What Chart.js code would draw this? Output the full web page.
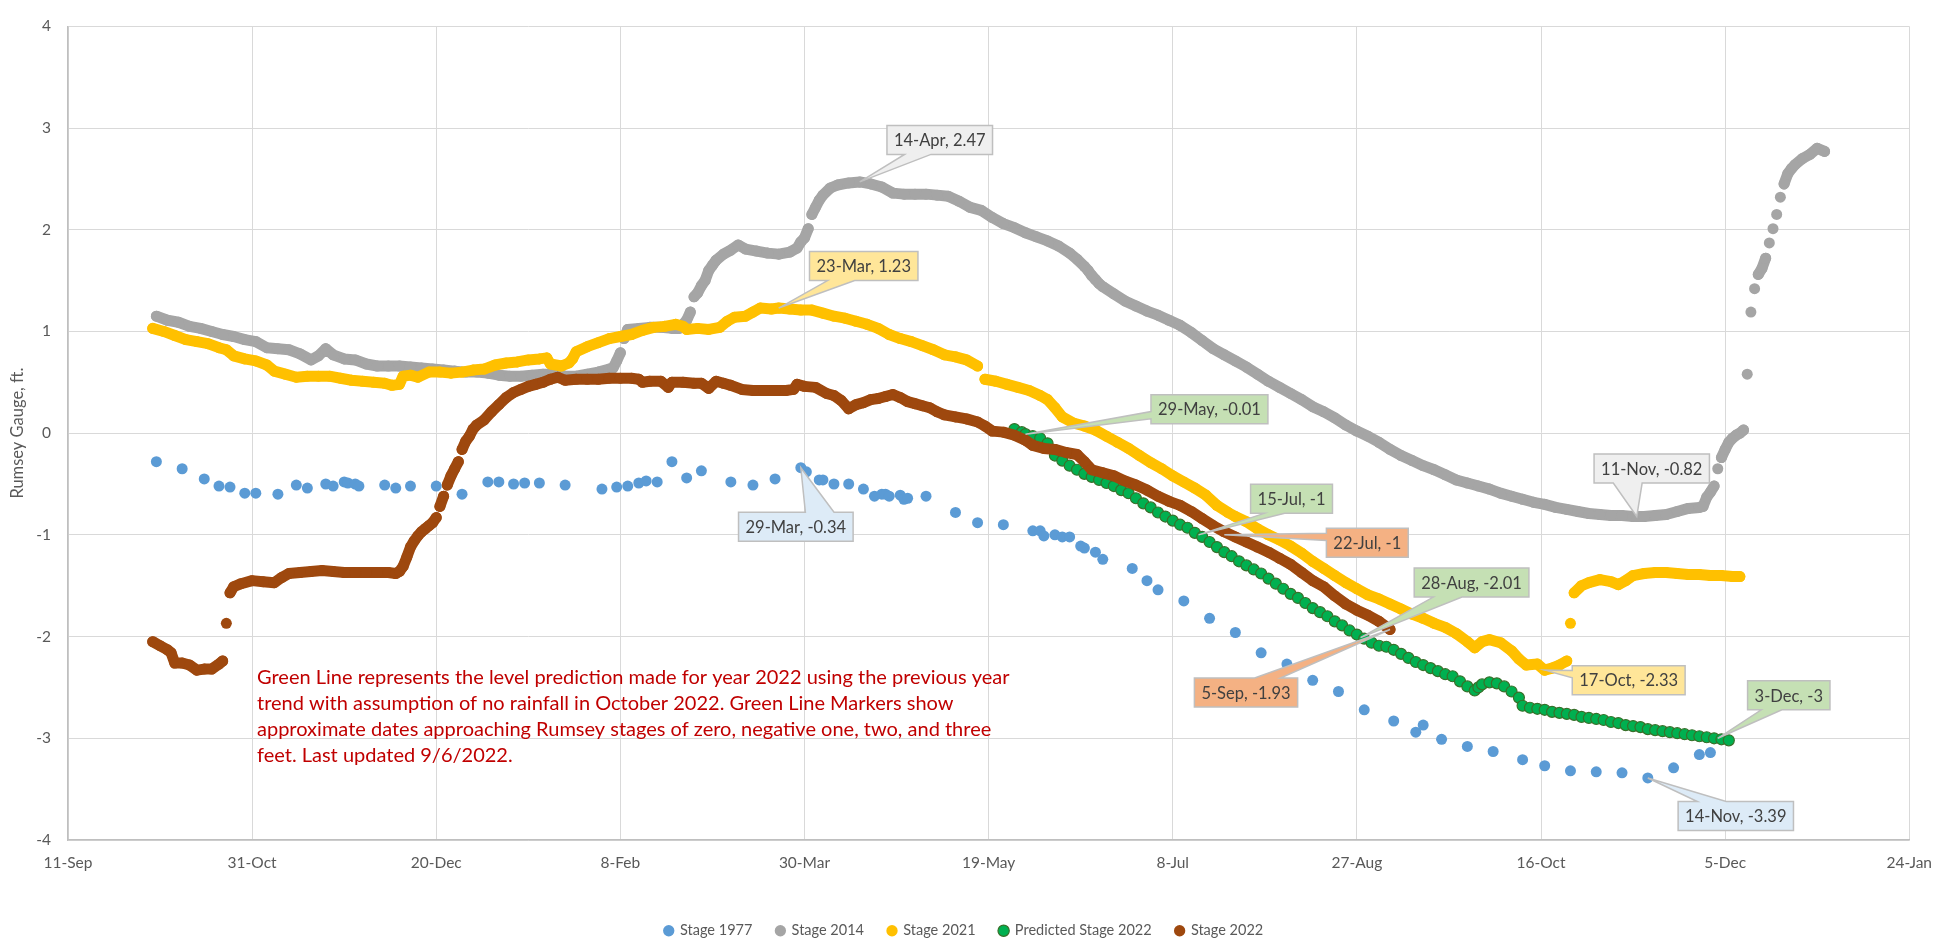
<!DOCTYPE html>
<html>
<head>
<meta charset="utf-8">
<title>Rumsey Gauge stages</title>
<script src="https://cdn.jsdelivr.net/npm/chart.js@4.4.1/dist/chart.umd.min.js"></script>
<style>
  html, body { margin: 0; padding: 0; background: #fff; }
  canvas { display: block; }
</style>
</head>
<body>
<canvas id="stageChart" width="1946" height="948"></canvas>
<script>
var blue  = '#5B9BD5',
    gray  = '#A5A5A5',
    gold  = '#FFC000',
    green = '#00B050',
    brown = '#9E480E';

// x values are days counted from 11-Sep (axis start)
var axisStart = Date.UTC(2021, 8, 11);
var months = ['Jan','Feb','Mar','Apr','May','Jun','Jul','Aug','Sep','Oct','Nov','Dec'];
function dayLabel(d) {
    var t = new Date(axisStart + d * 86400000);
    return t.getUTCDate() + '-' + months[t.getUTCMonth()];
}

// [day, stage ft]
var stage1977 = [[24,-0.28],[31,-0.35],[37,-0.45],[41,-0.52],[44,-0.53],[48,-0.59],[51,-0.59],[57,-0.60],[62,-0.51],[65,-0.54],[70,-0.50],[72,-0.52],[75,-0.48],[76,-0.49],[78,-0.50],[79,-0.52],[86,-0.51],[89,-0.54],
    [93,-0.52],[100,-0.52],[107,-0.60],[114,-0.48],[117,-0.48],[121,-0.50],[124,-0.49],[128,-0.49],[135,-0.51],[145,-0.55],[149,-0.53],[152,-0.52],[155,-0.49],[157,-0.47],[160,-0.48],[164,-0.28],[168,-0.44],[172,-0.37],[180,-0.48],[186,-0.51],[192,-0.45],
    [199,-0.34],[200.5,-0.38],[204,-0.46],[205,-0.46],[208,-0.50],[212,-0.50],[216,-0.55],[219,-0.62],[221,-0.60],[222,-0.60],[223,-0.62],[226,-0.61],[227,-0.65],[228,-0.64],[233,-0.62],[241,-0.78],[247,-0.88],[254,-0.90],
    [262,-0.96],[264,-0.96],[265,-1.01],[268,-1.00],[270,-1.02],[272,-1.02],[275,-1.11],[276,-1.13],[279,-1.17],[281,-1.24],[289,-1.33],[293,-1.45],[296,-1.54],[303,-1.65],[310,-1.82],[317,-1.96],[324,-2.16],[331,-2.27],[338,-2.43],[345,-2.54],
    [352,-2.72],[360,-2.83],[366,-2.94],[368,-2.87],[373,-3.01],[380,-3.08],[387,-3.13],[395,-3.21],[401,-3.27],[408,-3.32],[415,-3.33],[422,-3.34],[429,-3.39],[436,-3.29],[443,-3.16],[446,-3.14]];

var stage2014 = [[24,1.15],[27,1.11],[30,1.09],[33,1.05],[36,1.03],[39,1.00],[42,0.97],[45,0.95],[48,0.92],[51,0.90],[54,0.84],[57,0.83],[60,0.82],[63,0.78],[66,0.72],[68,0.76],[70,0.83],[72,0.77],[75,0.73],[78,0.72],[81,0.68],[84,0.66],[87,0.66],[90,0.66],
    [93,0.65],[96,0.64],[99,0.63],[102,0.62],[105,0.61],[108,0.60],[111,0.60],[114,0.59],[117,0.57],[120,0.56],[123,0.56],[126,0.57],[129,0.58],[132,0.58],[135,0.56],[138,0.56],[141,0.58],[144,0.60],[147,0.63],[148,0.64],[149,0.71],[150,0.79],[151,0.93],[152,1.02],
    [155,1.03],[158,1.04],[161,1.04],[164,1.03],[166,1.03],[167,1.07],[168,1.11],[169,1.19],[170,1.34],[171,1.38],[172,1.45],[173,1.50],[174,1.60],[175,1.65],[176,1.70],[178,1.76],[180,1.80],[182,1.85],[184,1.81],[187,1.79],[190,1.77],[193,1.76],[196,1.78],[198,1.82],
    [199,1.88],[200,1.92],[201,2.01],[202,2.15],[203,2.22],[204,2.29],[205,2.34],[207,2.41],[209,2.44],[212,2.46],[215,2.47],[218,2.45],[221,2.42],[224,2.36],[227,2.35],[230,2.35],[233,2.35],[236,2.34],[239,2.33],[242,2.28],[245,2.22],[248,2.19],[251,2.12],[254,2.06],
    [257,2.02],[260,1.97],[263,1.93],[266,1.89],[269,1.84],[272,1.77],[274,1.71],[276,1.64],[277,1.60],[278,1.55],[279,1.51],[280,1.47],[281,1.44],[284,1.37],[287,1.30],[290,1.25],[293,1.20],[296,1.16],[299,1.11],[302,1.06],[305,0.99],[308,0.91],[311,0.83],[314,0.77],[317,0.71],[320,0.65],[323,0.58],[326,0.51],
    [329,0.45],[332,0.39],[335,0.33],[338,0.26],[341,0.21],[344,0.15],[347,0.08],[350,0.02],[353,-0.03],[356,-0.09],[359,-0.16],[362,-0.22],[365,-0.27],[368,-0.32],[371,-0.36],[374,-0.41],[377,-0.46],[380,-0.49],[383,-0.52],[386,-0.55],[389,-0.59],[392,-0.62],
    [395,-0.65],[398,-0.68],[401,-0.70],[404,-0.73],[407,-0.75],[410,-0.77],[413,-0.79],[416,-0.80],[419,-0.81],[422,-0.81],[425,-0.82],[426,-0.82],[428,-0.82],[431,-0.81],[434,-0.80],[437,-0.77],[440,-0.74],[443,-0.73],[444,-0.72],[445,-0.63],[446,-0.58],[447,-0.52],
    [448,-0.35],[449,-0.24],[450,-0.16],[451,-0.09],[452,-0.05],[453,-0.02],[454,0.00],[455,0.03],[456,0.58],[457,1.19],[458,1.42],[459,1.56],[460,1.62],[461,1.72],[462,1.87],[463,2.01],[464,2.15],[465,2.32],[466,2.45],[467,2.55],[468,2.60],[469,2.64],[471,2.70],[473,2.74],[475,2.80],[477,2.77]];

var stage2021 = [[23,1.03],[26,1.00],[29,0.96],[32,0.92],[35,0.90],[38,0.88],[41,0.84],[43,0.82],[45,0.76],[48,0.73],[51,0.71],[54,0.67],[56,0.61],[59,0.58],[62,0.55],[65,0.56],[68,0.56],[71,0.56],[74,0.54],[77,0.52],[80,0.51],[83,0.50],[86,0.49],[88,0.47],
    [90,0.48],[91,0.56],[93,0.57],[95,0.55],[98,0.60],[101,0.60],[104,0.59],[107,0.60],[110,0.62],[113,0.63],[116,0.67],[119,0.69],[122,0.70],[125,0.72],[128,0.73],[130,0.74],[131,0.68],[134,0.66],[136,0.69],[137,0.73],[138,0.80],[141,0.85],[144,0.89],[147,0.93],
    [150,0.95],[153,0.97],[156,1.01],[159,1.04],[162,1.05],[165,1.07],[167,1.05],[168,1.02],[171,1.03],[174,1.02],[177,1.04],[179,1.10],[181,1.14],[184,1.15],[186,1.19],[188,1.23],[191,1.22],[193,1.23],[196,1.22],[199,1.21],[202,1.21],[205,1.18],[208,1.15],[211,1.13],
    [214,1.10],[217,1.07],[220,1.03],[223,0.97],[226,0.93],[229,0.90],[232,0.86],[235,0.82],[238,0.77],[241,0.75],[244,0.72],[247,0.66],[249,0.53],[252,0.51],[255,0.48],[258,0.45],[261,0.42],[264,0.37],[266,0.33],[268,0.25],[270,0.16],[273,0.10],[276,0.07],[279,0.03],
    [282,-0.03],[285,-0.09],[288,-0.15],[291,-0.22],[294,-0.29],[297,-0.35],[300,-0.42],[303,-0.48],[306,-0.54],[309,-0.61],[312,-0.71],[315,-0.78],[317,-0.82],[320,-0.87],[323,-0.94],[326,-1.00],[329,-1.05],[332,-1.11],[335,-1.18],[338,-1.26],[341,-1.33],[344,-1.40],
    [347,-1.47],[350,-1.53],[353,-1.59],[356,-1.63],[359,-1.68],[362,-1.73],[365,-1.78],[368,-1.82],[371,-1.87],[374,-1.91],[377,-1.97],[380,-2.05],[382,-2.11],[384,-2.05],[386,-2.03],[389,-2.06],[392,-2.14],[394,-2.22],[396,-2.28],[399,-2.27],[401,-2.33],[403,-2.31],
    [405,-2.28],[407,-2.24],[408,-1.87],[409,-1.57],[411,-1.50],[413,-1.47],[416,-1.44],[419,-1.46],[421,-1.49],[423,-1.45],[425,-1.40],[428,-1.38],[431,-1.37],[434,-1.37],[437,-1.38],[440,-1.39],[443,-1.39],[446,-1.40],[449,-1.40],[452,-1.41],[454,-1.41]];

var predicted2022 = [[257,0.04],[259,0.01],[260,-0.01],[262,-0.03],[264,-0.05],[266,-0.10],[268,-0.22],[270,-0.27],[272,-0.32],[274,-0.36],[276,-0.40],[278,-0.43],[280,-0.46],[282,-0.49],[284,-0.52],[286,-0.56],[288,-0.59],[290,-0.64],[292,-0.69],[294,-0.73],
    [296,-0.78],[298,-0.82],[300,-0.86],[302,-0.90],[304,-0.93],[306,-0.98],[308,-1.02],[310,-1.07],[312,-1.12],[314,-1.17],[316,-1.21],[318,-1.26],[320,-1.30],[322,-1.34],[324,-1.38],[326,-1.43],[328,-1.48],[330,-1.53],[332,-1.58],[334,-1.62],[336,-1.67],
    [338,-1.72],[340,-1.76],[342,-1.80],[344,-1.85],[346,-1.89],[348,-1.94],[350,-1.98],[352,-2.02],[354,-2.06],[356,-2.09],[358,-2.10],[360,-2.13],[362,-2.17],[364,-2.21],[366,-2.25],[368,-2.28],[370,-2.31],[372,-2.34],[374,-2.37],[376,-2.39],[378,-2.44],
    [380,-2.49],[382,-2.53],[383,-2.50],[384,-2.47],[386,-2.45],[388,-2.46],[390,-2.49],[392,-2.54],[394,-2.60],[395,-2.68],[397,-2.70],[399,-2.71],[401,-2.72],[403,-2.74],[405,-2.75],[407,-2.76],[409,-2.77],[411,-2.79],[413,-2.80],[415,-2.81],[417,-2.82],
    [419,-2.84],[421,-2.85],[423,-2.87],[425,-2.88],[427,-2.89],[429,-2.91],[431,-2.92],[433,-2.93],[435,-2.94],[437,-2.95],[439,-2.96],[441,-2.97],[443,-2.98],[445,-2.99],[447,-3.00],[449,-3.01],[451,-3.02]];

var stage2022 = [[23,-2.05],[25,-2.09],[27,-2.13],[28,-2.16],[29,-2.26],[31,-2.26],[33,-2.28],[35,-2.33],[37,-2.32],[39,-2.32],[41,-2.27],[42,-2.24],[43,-1.87],[44,-1.57],[45,-1.51],[47,-1.48],[50,-1.45],[53,-1.46],[56,-1.47],[58,-1.42],[60,-1.38],
    [63,-1.37],[66,-1.36],[69,-1.35],[72,-1.36],[75,-1.37],[78,-1.37],[81,-1.37],[84,-1.37],[87,-1.37],[89,-1.38],[90,-1.36],[91,-1.31],[92,-1.22],[93,-1.12],[94,-1.06],[95,-1.01],[96,-0.97],[97,-0.94],[98,-0.91],[99,-0.88],[100,-0.83],[101,-0.72],
    [102,-0.62],[103,-0.51],[104,-0.42],[105,-0.35],[106,-0.28],[107,-0.16],[108,-0.08],[109,-0.03],[110,0.04],[111,0.08],[113,0.13],[115,0.21],[117,0.28],[119,0.35],[121,0.40],[123,0.43],[125,0.46],[127,0.48],[129,0.50],[131,0.53],[133,0.55],[135,0.52],
    [138,0.53],[141,0.53],[144,0.53],[147,0.54],[150,0.54],[153,0.54],[155,0.53],[156,0.50],[158,0.51],[161,0.51],[163,0.45],[164,0.50],[167,0.50],[170,0.49],[172,0.49],[174,0.44],[176,0.51],[178,0.49],[180,0.47],[183,0.43],[186,0.42],[189,0.42],
    [192,0.42],[195,0.42],[197,0.43],[198,0.48],[200,0.46],[203,0.45],[206,0.39],[208,0.37],[210,0.32],[212,0.24],[214,0.28],[216,0.30],[218,0.33],[220,0.34],[222,0.36],[224,0.38],[226,0.35],[228,0.31],[230,0.29],[232,0.27],[234,0.25],[236,0.21],
    [238,0.18],[241,0.16],[244,0.14],[247,0.11],[249,0.07],[251,0.02],[254,0.01],[257,-0.02],[260,-0.07],[262,-0.12],[265,-0.15],[268,-0.16],[271,-0.19],[274,-0.21],[276,-0.28],[278,-0.36],[281,-0.39],[284,-0.42],[287,-0.47],[290,-0.51],[293,-0.56],
    [296,-0.62],[299,-0.67],[302,-0.71],[305,-0.77],[308,-0.84],[311,-0.91],[314,-0.97],[317,-1.02],[320,-1.07],[323,-1.12],[326,-1.17],[329,-1.23],[332,-1.29],[335,-1.37],[338,-1.45],[341,-1.51],[344,-1.60],[347,-1.68],[350,-1.74],[353,-1.79],[356,-1.85],[359,-1.93]];

// labelled points
var calloutDays   = [215, 193, 260, 199, 307, 314, 351, 359, 401, 426, 448, 429];
var calloutValues = [2.47, 1.23, -0.01, -0.34, -1, -1, -2.01, -1.93, -2.33, -0.82, -3, -3.39];

var noteLines = [
    'Green Line represents the level prediction made for year 2022 using the previous year',
    'trend with assumption of no rainfall in October 2022. Green Line Markers show',
    'approximate dates approaching Rumsey stages of zero, negative one, two, and three',
    'feet. Last updated 9/6/2022.'
];

// callout look: fill and box-centre offset from the point (px)
var calloutFills = ['#EFEFEF', '#FFE699', '#C5E0B4', '#DDEBF7', '#C5E0B4', '#F4B183', '#C5E0B4', '#F4B183', '#FFE699', '#EFEFEF', '#C5E0B4', '#DDEBF7'];
var calloutOffsets = [[80,-42], [85,-42], [184,-25], [-5,59], [93,-36], [143,8], [111,-55], [-144,63], [84,10], [15,-48], [71,-43], [88,38]];

var labelFont = 'Lato, "Open Sans", sans-serif';

function toPoints(pairs) {
    return pairs.map(function (p) { return {x: p[0], y: p[1]}; });
}

// hide the joining line where the day-to-day jump is big so single dots show
function bandGap(ctx) {
    var dx = ctx.p1.x - ctx.p0.x, dy = ctx.p1.y - ctx.p0.y;
    return (Math.sqrt(dx * dx + dy * dy) > 18 || Math.abs(dy) > 11) ? 'rgba(0,0,0,0)' : undefined;
}

function band(label, pairs, color, order) {
    return {
        label: label,
        data: toPoints(pairs),
        showLine: true,
        borderColor: color,
        backgroundColor: color,
        borderWidth: 11,
        borderCapStyle: 'round',
        borderJoinStyle: 'round',
        pointRadius: 5.5,
        pointBorderWidth: 0,
        pointBackgroundColor: color,
        pointBorderColor: color,
        segment: { borderColor: bandGap },
        order: order
    };
}

var notePlugin = {
    id: 'note',
    afterDatasetsDraw: function (chart) {
        var c = chart.ctx;
        c.save();
        c.font = '20px ' + labelFont;
        c.fillStyle = '#C00000';
        c.textBaseline = 'middle';
        noteLines.forEach(function (line, i) {
            c.fillText(line, 257, 678 + i * 26);
        });
        c.restore();
    }
};

var calloutPlugin = {
    id: 'callouts',
    afterDatasetsDraw: function (chart) {
        var c = chart.ctx, xs = chart.scales.x, ys = chart.scales.y;
        c.save();
        c.font = '16.5px ' + labelFont;
        c.textAlign = 'center';
        c.textBaseline = 'middle';
        calloutDays.forEach(function (d, i) {
            var px = xs.getPixelForValue(d), py = ys.getPixelForValue(calloutValues[i]);
            var text = dayLabel(d) + ', ' + calloutValues[i];
            var w = c.measureText(text).width + 14, h = 29;
            var cx = px + calloutOffsets[i][0], cy = py + calloutOffsets[i][1];
            var l = cx - w / 2, t = cy - h / 2, r = l + w, b = t + h;
            var dx = px - cx, dy = py - cy;
            var tip = [px, py], pts;
            if (Math.abs(dy) * w > Math.abs(dx) * h) {
                var f = dx < 0 ? [1 / 6, 5 / 12] : [7 / 12, 5 / 6];
                var x1 = l + w * f[0], x2 = l + w * f[1];
                if (dy < 0) pts = [[l, t], [x1, t], tip, [x2, t], [r, t], [r, b], [l, b]];
                else pts = [[l, t], [r, t], [r, b], [x2, b], tip, [x1, b], [l, b]];
            } else {
                var g = dy < 0 ? [1 / 6, 5 / 12] : [7 / 12, 5 / 6];
                var y1 = t + h * g[0], y2 = t + h * g[1];
                if (dx > 0) pts = [[l, t], [r, t], [r, y1], tip, [r, y2], [r, b], [l, b]];
                else pts = [[l, t], [r, t], [r, b], [l, b], [l, y2], tip, [l, y1]];
            }
            c.beginPath();
            pts.forEach(function (p, k) { if (k === 0) c.moveTo(p[0], p[1]); else c.lineTo(p[0], p[1]); });
            c.closePath();
            c.fillStyle = calloutFills[i];
            c.fill();
            c.strokeStyle = '#BFBFBF';
            c.lineWidth = 1.5;
            c.stroke();
            c.fillStyle = '#404040';
            c.fillText(text, cx, cy + 1);
        });
        c.restore();
    }
};

Chart.defaults.font.family = labelFont;
Chart.defaults.color = '#595959';

new Chart(document.getElementById('stageChart'), {
    type: 'scatter',
    data: {
        datasets: [
            {
                label: 'Stage 1977',
                data: toPoints(stage1977),
                pointRadius: 5.5,
                pointBorderWidth: 0,
                backgroundColor: blue,
                borderColor: blue,
                pointBackgroundColor: blue,
                order: 5
            },
            band('Stage 2014', stage2014, gray, 4),
            band('Stage 2021', stage2021, gold, 3),
            {
                label: 'Predicted Stage 2022',
                data: toPoints(predicted2022),
                pointRadius: 5.5,
                pointBorderWidth: 1.2,
                backgroundColor: green,
                borderColor: '#38702A',
                pointBackgroundColor: green,
                pointBorderColor: '#38702A',
                order: 2
            },
            band('Stage 2022', stage2022, brown, 1)
        ]
    },
    options: {
        responsive: false,
        animation: false,
        devicePixelRatio: 1,
        events: [],
        layout: { padding: { top: 16, right: 26, bottom: 0, left: 8 } },
        scales: {
            x: {
                type: 'linear',
                min: 0,
                max: 500,
                afterFit: function (s) { s.height = 59.5; },
                ticks: {
                    stepSize: 50,
                    autoSkip: false,
                    maxRotation: 0,
                    padding: 14,
                    font: { size: 15.5 },
                    callback: function (v) { return dayLabel(v); }
                },
                grid: { color: '#D9D9D9', drawTicks: false },
                border: { color: '#BFBFBF', width: 1.5 }
            },
            y: {
                min: -4,
                max: 4,
                afterFit: function (s) { s.width = 60; },
                ticks: { stepSize: 1, padding: 17, font: { size: 15.5 } },
                title: {
                    display: true,
                    text: 'Rumsey Gauge, ft.',
                    font: { size: 16.5 },
                    padding: { top: 0, bottom: 0 }
                },
                grid: { color: '#D9D9D9', drawTicks: false },
                border: { color: '#BFBFBF', width: 1.5 }
            }
        },
        plugins: {
            legend: {
                position: 'bottom',
                labels: {
                    usePointStyle: true,
                    pointStyle: 'circle',
                    boxWidth: 8,
                    boxHeight: 8,
                    padding: 24,
                    font: { size: 14.5 },
                    color: '#595959',
                    sort: function (a, b) { return a.datasetIndex - b.datasetIndex; }
                }
            },
            tooltip: { enabled: false }
        }
    },
    plugins: [notePlugin, calloutPlugin]
});
</script>
</body>
</html>
